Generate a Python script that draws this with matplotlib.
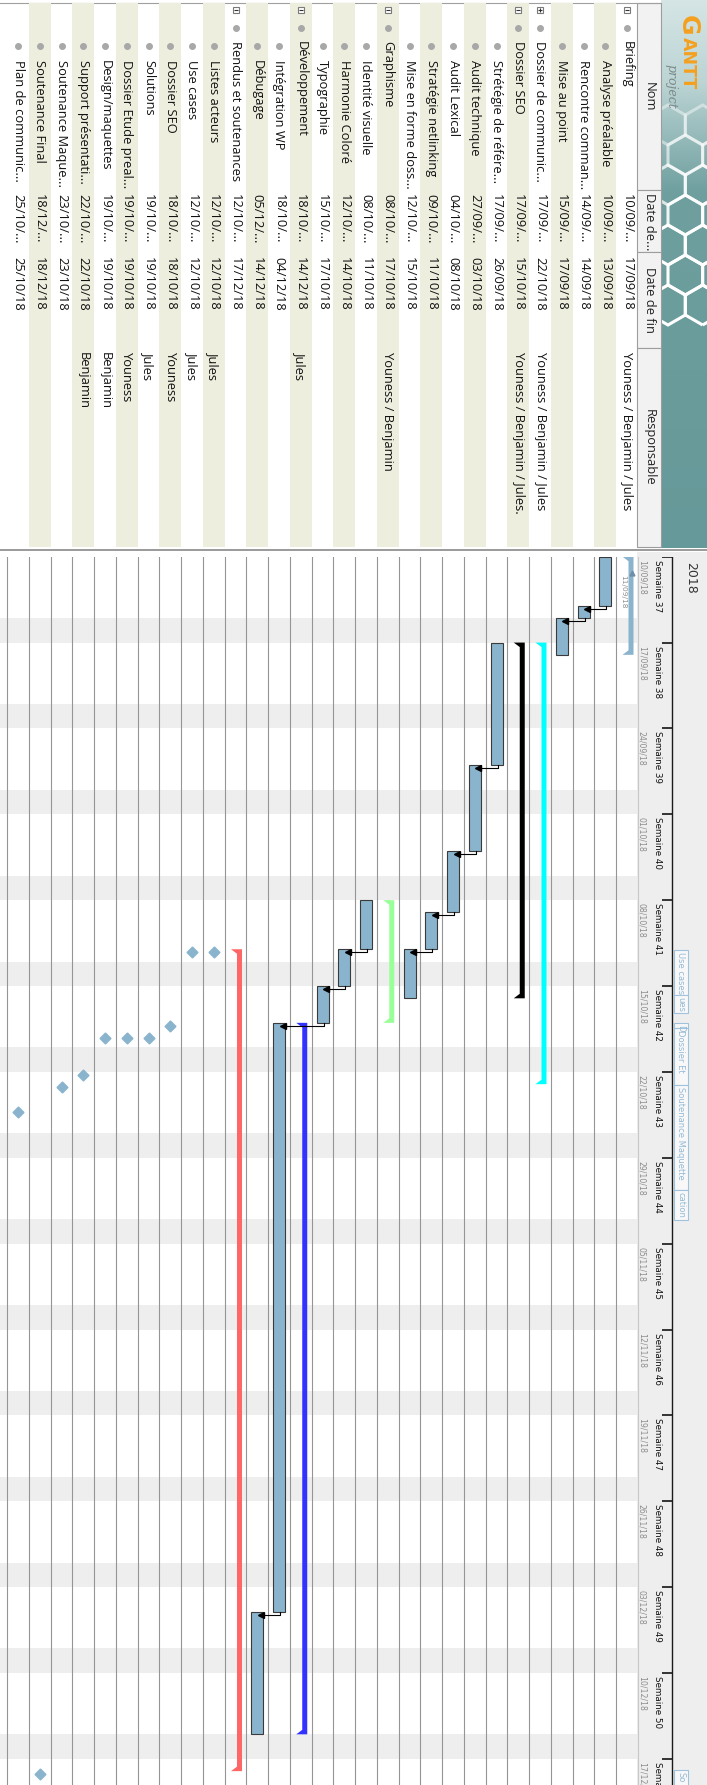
import numpy as np
import matplotlib
matplotlib.use("Agg")
import matplotlib.pyplot as plt
import matplotlib.dates as mdates
from matplotlib.patches import Rectangle, Polygon, RegularPolygon
from matplotlib.colors import LinearSegmentedColormap
from datetime import datetime

W, H = 707, 1785
FONT = ["Open Sans", "DejaVu Sans"]
TXT = 9.3

# ---- task table, top row first ----
names = ["Briefing", "Analyse préalable", "Rencontre comman...", "Mise au point",
         "Dossier de communic...", "Dossier SEO", "Strétégie de référe...",
         "Audit technique", "Audit Lexical", "Stratégie netlinking",
         "Mise en forme doss...", "Graphisme", "Identité visuelle",
         "Harmonie Coloré", "Typographie", "Développement", "Intégration WP",
         "Débugage", "Rendus et soutenances", "Listes acteurs", "Use cases",
         "Dossier SEO", "Solutions", "Dossier Etude preal...", "Design/maquettes",
         "Support présentati...", "Soutenance Maque...", "Soutenance Final",
         "Plan de communic..."]
levels = [0, 1, 1, 1, 0, 0, 1, 1, 1, 1, 1, 0, 1, 1, 1, 0, 1, 1, 0,
          1, 1, 1, 1, 1, 1, 1, 1, 1, 1]
kinds = ["group", "task", "task", "task", "closed", "group", "task", "task",
         "task", "task", "task", "group", "task", "task", "task", "group",
         "task", "task", "group"] + ["milestone"] * 10
starts = ["10/09/18", "10/09/18", "14/09/18", "15/09/18", "17/09/18", "17/09/18",
          "17/09/18", "27/09/18", "04/10/18", "09/10/18", "12/10/18", "08/10/18",
          "08/10/18", "12/10/18", "15/10/18", "18/10/18", "18/10/18", "05/12/18",
          "12/10/18", "12/10/18", "12/10/18", "18/10/18", "19/10/18", "19/10/18",
          "19/10/18", "22/10/18", "23/10/18", "18/12/18", "25/10/18"]
ends = ["17/09/18", "13/09/18", "14/09/18", "17/09/18", "22/10/18", "15/10/18",
        "26/09/18", "03/10/18", "08/10/18", "11/10/18", "15/10/18", "17/10/18",
        "11/10/18", "14/10/18", "17/10/18", "14/12/18", "04/12/18", "14/12/18",
        "17/12/18", "12/10/18", "12/10/18", "18/10/18", "19/10/18", "19/10/18",
        "19/10/18", "22/10/18", "23/10/18", "18/12/18", "25/10/18"]
owners = ["Youness / Benjamin / Jules", "", "", "", "Youness / Benjamin / Jules",
          "Youness / Benjamin / Jules.", "", "", "", "", "", "Youness / Benjamin",
          "", "", "", "Jules", "", "", "", "Jules", "Jules", "Youness", "Jules",
          "Youness", "Benjamin", "Benjamin", "", "", ""]
summary_colors = {0: "#8ab4cd", 4: "#00ffff", 5: "#000000", 11: "#99ff99",
                  15: "#3333ff", 18: "#ff6666"}
deps = [(1, 2), (2, 3), (6, 7), (7, 8), (8, 9), (9, 10), (12, 13), (13, 14),
        (14, 16), (16, 17)]

week_nums = [37, 38, 39, 40, 41, 42, 43, 44, 45, 46, 47, 48, 49, 50, 51]
week_starts = ["10/09/18", "17/09/18", "24/09/18", "01/10/18", "08/10/18",
               "15/10/18", "22/10/18", "29/10/18", "05/11/18", "12/11/18",
               "19/11/18", "26/11/18", "03/12/18", "10/12/18", "17/12/18"]
# milestone names as they show (clipped) in the timeline strip, in days from 10/09
tl_labels = ["Use cases", "ues", "D", "Dossier Et", "Soutenance Maquette", "cation", "So"]
tl_from = [32.05, 35.7, 38.0, 38.45, 43.05, 51.6, 98.9]
tl_to = [35.7, 37.2, 38.45, 43.05, 51.6, 54.05, 101.0]

headers = ["Nom", "Date de...", "Date de fin", "Responsable"]

# ---- geometry (pixels) ----
ROW_PX = 21.75
ROW0 = 627.0
DAY_PX = 12.267
TOP = 556.7
CH_W = 637.0
BAR = "#8ab4cd"
BEIGE = "#eeeedf"


def d2n(s):
    return mdates.date2num(datetime.strptime(s, "%d/%m/%y"))


def xlim_for(p0, p1):
    return ((ROW0 - p0) / ROW_PX, (ROW0 - p1) / ROW_PX)


n = len(names)
rows = np.arange(n)
t0 = d2n(week_starts[0])

fig = plt.figure(figsize=(W / 100, H / 100), dpi=100)
fig.patch.set_facecolor("white")

# background / decoration layer in pixel units
bg = fig.add_axes([0, 0, 1, 1])
bg.set_zorder(0)
bg.axis("off")

# logo panel
grad = np.linspace(0, 1, 256)[:, None]
cmap = LinearSegmentedColormap.from_list(
    "logo", [(0, "#d5e5e5"), (0.15, "#bcd4d4"), (0.35, "#6f9f9f"), (1, "#669999")])
bg.imshow(grad, extent=[660.7, W, 548, 0], cmap=cmap, aspect="auto", zorder=1)
clip = Rectangle((660.7, 0), W - 660.7, 548, transform=bg.transData)
r = 20
for k in range(7):
    for j in range(3):
        cx = 668 + j * np.sqrt(3) * r + (k % 2) * np.sqrt(3) * r / 2
        cy = 125 + k * 1.5 * r
        hx = RegularPolygon((cx, cy), 6, radius=r, orientation=0,
                            fill=False, ec="white", lw=2.2,
                            alpha=min(1, 0.45 + 0.15 * k), zorder=2)
        hx.set_clip_path(clip)
        bg.add_patch(hx)
bg.text(688, 15, "G", rotation=-90, ha="center", va="top", fontsize=18,
        fontweight="bold", color="#f5a01e", family="DejaVu Sans", zorder=3)
bg.text(688, 37, "ANTT", rotation=-90, ha="center", va="top", fontsize=12.5,
        fontweight="bold", color="#f5a01e", family="DejaVu Sans", zorder=3)
bg.text(671, 64, "project", rotation=-90, ha="center", va="top", fontsize=9,
        style="italic", color="#7b8b8b", family="DejaVu Serif", zorder=3)

# column headers
hdr_y = [3, 190, 252, 348, 547]
for k, lab in enumerate(headers):
    y0, y1 = hdr_y[k], hdr_y[k + 1]
    bg.add_patch(Rectangle((637, y0), 23.7, y1 - y0, fc="#f2f2f2", ec="#9d9d9d",
                           lw=0.8, zorder=2))
    if lab.endswith("..."):
        bg.text(649, y0 + 3, lab, rotation=-90, ha="center", va="top",
                fontsize=TXT, family=FONT, color="#222222", zorder=3)
    else:
        bg.text(649, (y0 + y1) / 2, lab, rotation=-90, ha="center", va="center",
                fontsize=TXT, family=FONT, color="#222222", zorder=3)
bg.plot([0, 660.7], [3, 3], color="#a0a0a0", lw=0.8, zorder=2)
bg.plot([0, W], [549.5, 549.5], color="#9a9a9a", lw=1.4, zorder=2)
bg.add_patch(Rectangle((CH_W, 552), W - CH_W, H - 552, fc="#eeeeee", ec="none", zorder=1))
bg.set_xlim(0, W)
bg.set_ylim(H, 0)

# ---- table ----
tab = fig.add_axes([0, 1 - 550 / H, CH_W / W, 550 / H])
tab.set_zorder(1)
tab.patch.set_alpha(0)
tab.set_xlim(*xlim_for(0, CH_W))
tab.set_ylim(550, 0)
tab.axis("off")
tab.bar(rows[1::2], 544, bottom=3, width=1.0, color=BEIGE, zorder=0)
for i in rows:
    ind = 18.5 * levels[i]
    if kinds[i] in ("group", "closed"):
        tab.plot(i, 10, marker="s", ms=5, mfc="white", mec="#7a7a7a", mew=0.8)
        tab.plot(i, 10, marker="+" if kinds[i] == "closed" else "_", ms=3.5,
                 color="#333333", mew=0.8)
    tab.plot(i, 28 + ind, marker="o", ms=4, color="#a8a8a8")
    tab.text(i, 41 + ind, names[i], rotation=-90, ha="center", va="top",
             fontsize=TXT, family=FONT, color="#111111")
    tab.text(i, 194, starts[i][:6] + "...", rotation=-90, ha="center", va="top",
             fontsize=TXT, family=FONT, color="#111111")
    tab.text(i, 257, ends[i], rotation=-90, ha="center", va="top",
             fontsize=TXT, family=FONT, color="#111111")
    if owners[i]:
        tab.text(i, 352, owners[i], rotation=-90, ha="center", va="top",
                 fontsize=TXT, family=FONT, color="#111111")

# ---- gantt ----
gan = fig.add_axes([0, 0, CH_W / W, (H - TOP) / H])
gan.set_zorder(1)
gan.patch.set_alpha(0)
gan.set_xlim(*xlim_for(0, CH_W))
t_end = t0 + (H - TOP) / DAY_PX
gan.set_ylim(t_end, t0)
gan.axis("off")

for ws in week_starts:
    sat = d2n(ws) + 5
    gan.axhspan(sat, sat + 2, color="#eeeeee", lw=0, zorder=0)
for b in np.arange(-0.5, n, 1.0):
    gan.axvline(b, color="#959595", lw=0.8, zorder=1)

hw = 6 / ROW_PX
s_num = np.array([d2n(s) for s in starts])
e_num = np.array([d2n(e) for e in ends]) + 1

for i in rows:
    if kinds[i] == "task":
        gan.bar(i, e_num[i] - s_num[i], bottom=s_num[i], width=2 * hw, color=BAR,
                edgecolor="#3a3a3a", lw=0.8, zorder=3)
    elif kinds[i] == "milestone":
        gan.plot(i, s_num[i] + 3 / DAY_PX, marker=(4, 0, 0), ms=7.8, color=BAR,
                 mec=BAR, zorder=4, ls="none")
    else:
        c = summary_colors[i]
        px = lambda p: i - p / ROW_PX
        py = lambda p: p / DAY_PX
        s, e = s_num[i], e_num[i]
        pts = [(px(6.5), s), (px(-4.5), s), (px(1.5), s + py(4.5)),
               (px(1.5), e - py(4.5)), (px(-4.5), e), (px(6.5), e)]
        gan.add_patch(Polygon(pts, closed=True, fc=c, ec="none", zorder=3))

for a, b in deps:
    ya = e_num[a] + 3 / DAY_PX
    xb = b - hw
    gan.plot([a - 1 / ROW_PX, a - 1 / ROW_PX, xb], [e_num[a], ya, ya],
             color="black", lw=0.8, zorder=5)
    gan.plot(xb + 2.5 / ROW_PX, ya, marker="<", ms=4.5, color="black", zorder=5)

# Briefing marker
gan.plot(0 - 4.5 / ROW_PX, t0 + 1.35, marker="^", ms=3.5, color="#6f8fa8", zorder=5)
gan.text(0 + 4 / ROW_PX, t0 + 1.5, "11/09/18", rotation=-90, ha="center", va="top",
         fontsize=5.3, color="#8e8e8e", family="DejaVu Sans", zorder=5)

# ---- time header ----
hdr = fig.add_axes([CH_W / W, 0, (W - CH_W) / W, (H - TOP) / H])
hdr.set_zorder(1)
hdr.patch.set_alpha(0)
hdr.set_xlim(CH_W, W)
hdr.set_ylim(t_end, t0)
hdr.axis("off")
hdr.axvline(CH_W + 0.5, color="#c8c8c8", lw=0.8)
hdr.axvline(671.7, color="#1a1a1a", lw=1.0)
for wn, ws in zip(week_nums, week_starts):
    m = d2n(ws)
    hdr.plot([662, 671.7], [m, m], color="#333333", lw=1.4, solid_capstyle="butt")
    hdr.text(657.5, m + 3 / DAY_PX, "Semaine %d" % wn, rotation=-90, ha="center",
             va="top", fontsize=6.3, family="DejaVu Sans", color="#111111",
             clip_on=True)
    hdr.text(641.8, m + 3 / DAY_PX, ws, rotation=-90, ha="center", va="top",
             fontsize=5.6, family="DejaVu Sans", color="#8c8c8c", clip_on=True)
hdr.text(691, t0 + 5.5 / DAY_PX, "2018", rotation=-90, ha="center", va="top",
         fontsize=9, family="DejaVu Sans", color="#333333")
for lab, d0, d1 in zip(tl_labels, tl_from, tl_to):
    box = Rectangle((674, t0 + d0), 14, d1 - d0, fc="#f8f8f8", ec="#9fc3dc",
                    lw=0.8, zorder=3)
    hdr.add_patch(box)
    t = hdr.text(681, t0 + d0 + 2 / DAY_PX, lab, rotation=-90, ha="center",
                 va="top", fontsize=6.0, family="DejaVu Sans", color="#94bad6",
                 zorder=4)
    t.set_clip_path(box)

fig.savefig("out.png", dpi=100)
